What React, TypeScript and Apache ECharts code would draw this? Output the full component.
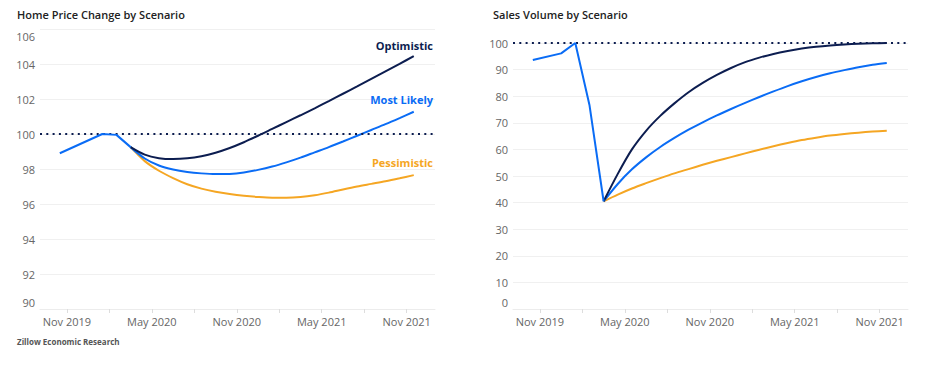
import React, { useEffect, useRef } from "react";
import * as echarts from "echarts";

// x values are months counted from Nov 2019 (0 = Nov 2019)
const priceHistMonths = [-0.5, 2.5, 3.5, 4.5];
const priceHist = [98.9, 100.0, 99.95, 99.25];

const scenarioMonths = [4.5, 5.5, 6.5, 7.5, 8.5, 9.5, 10.5, 11.5, 12.5, 13.5, 14.5, 15.5, 16.5, 17.5, 18.5, 19.5, 20.5, 21.5, 22.5, 23.5, 24.5];

const priceOptimistic = [99.25, 98.82, 98.62, 98.57, 98.61, 98.73, 98.93, 99.2, 99.53, 99.9, 100.29, 100.68, 101.07, 101.47, 101.88, 102.3, 102.72, 103.15, 103.58, 104.01, 104.45];
const priceMostLikely = [99.25, 98.6, 98.2, 97.97, 97.83, 97.75, 97.71, 97.72, 97.8, 97.95, 98.14, 98.38, 98.65, 98.95, 99.25, 99.57, 99.9, 100.23, 100.56, 100.91, 101.27];
const pricePessimistic = [99.25, 98.45, 97.9, 97.48, 97.13, 96.88, 96.7, 96.57, 96.47, 96.4, 96.36, 96.36, 96.4, 96.5, 96.65, 96.83, 97.0, 97.15, 97.3, 97.47, 97.65];

const salesHistMonths = [-0.5, 1.5, 2.5, 3.5, 4.5];
const salesHist = [93.6, 96.1, 100.0, 76.7, 40.5];

const salesOptimistic = [40.5, 50.8, 60.0, 67.0, 72.6, 77.3, 81.5, 85.0, 88.0, 90.6, 92.8, 94.5, 95.9, 97.0, 97.9, 98.6, 99.1, 99.45, 99.7, 99.88, 100.0];
const salesMostLikely = [40.5, 47.0, 52.5, 57.0, 60.9, 64.3, 67.4, 70.2, 72.8, 75.2, 77.5, 79.7, 81.8, 83.8, 85.6, 87.2, 88.6, 89.8, 90.9, 91.8, 92.5];
const salesPessimistic = [40.5, 43.0, 45.3, 47.3, 49.2, 51.0, 52.6, 54.2, 55.7, 57.1, 58.5, 59.9, 61.2, 62.4, 63.5, 64.4, 65.2, 65.8, 66.3, 66.7, 67.0];

const xLabelMonths = [0, 6, 12, 18, 24];
const xTickMonths = [0, 3, 6, 9, 12, 15, 18, 21, 24];
const priceTicks = [90, 92, 94, 96, 98, 100, 102, 104, 106];
const salesTicks = [0, 10, 20, 30, 40, 50, 60, 70, 80, 90, 100];

const scenarioNames = ["Optimistic", "Most Likely", "Pessimistic"];
const monthNames = ["Jan", "Feb", "Mar", "Apr", "May", "Jun", "Jul", "Aug", "Sep", "Oct", "Nov", "Dec"];

const NAVY = "#0c1d50";
const BLUE = "#0a6cf5";
const ORANGE = "#f5a623";
const FONT = "Open Sans";

function monthLabel(m: number): string {
  const k = 10 + Math.round(m);
  return monthNames[((k % 12) + 12) % 12] + " " + (2019 + Math.floor(k / 12));
}

function pairs(xs: number[], ys: number[]) {
  return xs.map((x, i) => [x, ys[i]]);
}

export default function App() {
  const ref = useRef<HTMLDivElement>(null);
  useEffect(() => {
    if (!ref.current) return;
    const chart = echarts.init(ref.current, null, { renderer: "svg" });

    const xAxisBase = (gridIndex: number) => ({
      type: "value",
      gridIndex,
      min: -1.9,
      max: 26,
      splitLine: { show: false },
      axisLine: { show: true, lineStyle: { color: "#ececec", width: 1 } },
      axisTick: { show: true, customValues: xTickMonths, length: 4, lineStyle: { color: "#dddddd" } },
      axisLabel: {
        customValues: xLabelMonths,
        formatter: (v: number) => monthLabel(v),
        color: "#666",
        fontFamily: FONT,
        fontSize: 11,
        margin: 7,
      },
    });

    const yAxisBase = (gridIndex: number, min: number, max: number, interval: number, ticks: number[], shiftTop: boolean) => ({
      type: "value",
      gridIndex,
      min,
      max,
      interval,
      axisLine: { show: false },
      axisTick: { show: false },
      splitLine: { show: true, lineStyle: { color: "#f0f0f0", width: 1 } },
      axisLabel: {
        color: "#666",
        fontFamily: FONT,
        fontSize: 11,
        margin: 5,
        formatter: (v: number) => {
          if (v === ticks[0]) return "{bot|" + v + "}";
          if (shiftTop && v === ticks[ticks.length - 1]) return "{top|" + v + "}";
          return String(v);
        },
        rich: {
          bot: { color: "#666", fontFamily: FONT, fontSize: 11, padding: [0, 0, 14, 0] },
          top: { color: "#666", fontFamily: FONT, fontSize: 11, padding: [14, 0, 0, 0] },
        },
      },
    });

    const refLine = {
      silent: true,
      symbol: "none",
      label: { show: false },
      lineStyle: { color: NAVY, type: [2, 4.3], width: 2 },
      data: [{ yAxis: 100 }],
    };

    const line = (name: string, xi: number, data: number[][], color: string, smooth: any, z: number, mark?: any) => ({
      type: "line",
      name,
      xAxisIndex: xi,
      yAxisIndex: xi,
      data,
      showSymbol: false,
      symbol: "none",
      smooth,
      lineStyle: { color, width: 2 },
      itemStyle: { color },
      z,
      ...(mark ? { markLine: mark } : {}),
    });

    const labelStyle = (text: string, fill: string) => ({
      text, fontFamily: FONT, fontSize: 11, fontWeight: "bold", fill, align: "right",
    });

    chart.setOption({
      animation: false,
      textStyle: { fontFamily: FONT },
      grid: [
        { left: 40, right: 499, top: 29, bottom: 61 },
        { left: 513, right: 26, top: 43, bottom: 61 },
      ],
      xAxis: [xAxisBase(0), xAxisBase(1)],
      yAxis: [
        yAxisBase(0, 90, 106, 2, priceTicks, true),
        yAxisBase(1, 0, 100, 10, salesTicks, false),
      ],
      series: [
        line(scenarioNames[2], 0, pairs(scenarioMonths, pricePessimistic), ORANGE, 0.3, 2, refLine),
        line(scenarioNames[1], 0, pairs(scenarioMonths, priceMostLikely), BLUE, 0.3, 3),
        line(scenarioNames[0], 0, pairs(scenarioMonths, priceOptimistic), NAVY, 0.3, 4),
        line("History", 0, pairs(priceHistMonths, priceHist), BLUE, false, 5),
        line(scenarioNames[2], 1, pairs(scenarioMonths, salesPessimistic), ORANGE, 0.3, 2, refLine),
        line(scenarioNames[1], 1, pairs(scenarioMonths, salesMostLikely), BLUE, 0.3, 3),
        line(scenarioNames[0], 1, pairs(scenarioMonths, salesOptimistic), NAVY, 0.3, 4),
        line("History", 1, pairs(salesHistMonths, salesHist), BLUE, false, 5),
      ],
      graphic: [
        { type: "text", z: 100, left: 17, top: 9, style: { text: "Home Price Change by Scenario", fontFamily: FONT, fontSize: 11, fontWeight: 600, fill: "#222" } },
        { type: "text", z: 100, left: 493, top: 9, style: { text: "Sales Volume by Scenario", fontFamily: FONT, fontSize: 11, fontWeight: 600, fill: "#222" } },
        { type: "text", z: 100, left: 17, top: 337, style: { text: "Zillow Economic Research", fontFamily: FONT, fontSize: 8, fontWeight: "bold", fill: "#555" } },
        { type: "text", z: 100, right: 501, top: 40, style: labelStyle(scenarioNames[0], NAVY) },
        { type: "text", z: 100, right: 501, top: 94, style: labelStyle(scenarioNames[1], BLUE) },
        { type: "text", z: 100, right: 501, top: 157, style: labelStyle(scenarioNames[2], ORANGE) },
      ],
    });
    return () => chart.dispose();
  }, []);
  return <div ref={ref} style={{ position: "fixed", left: 0, top: 0, width: 934, height: 370, background: "#fff" }} />;
}
